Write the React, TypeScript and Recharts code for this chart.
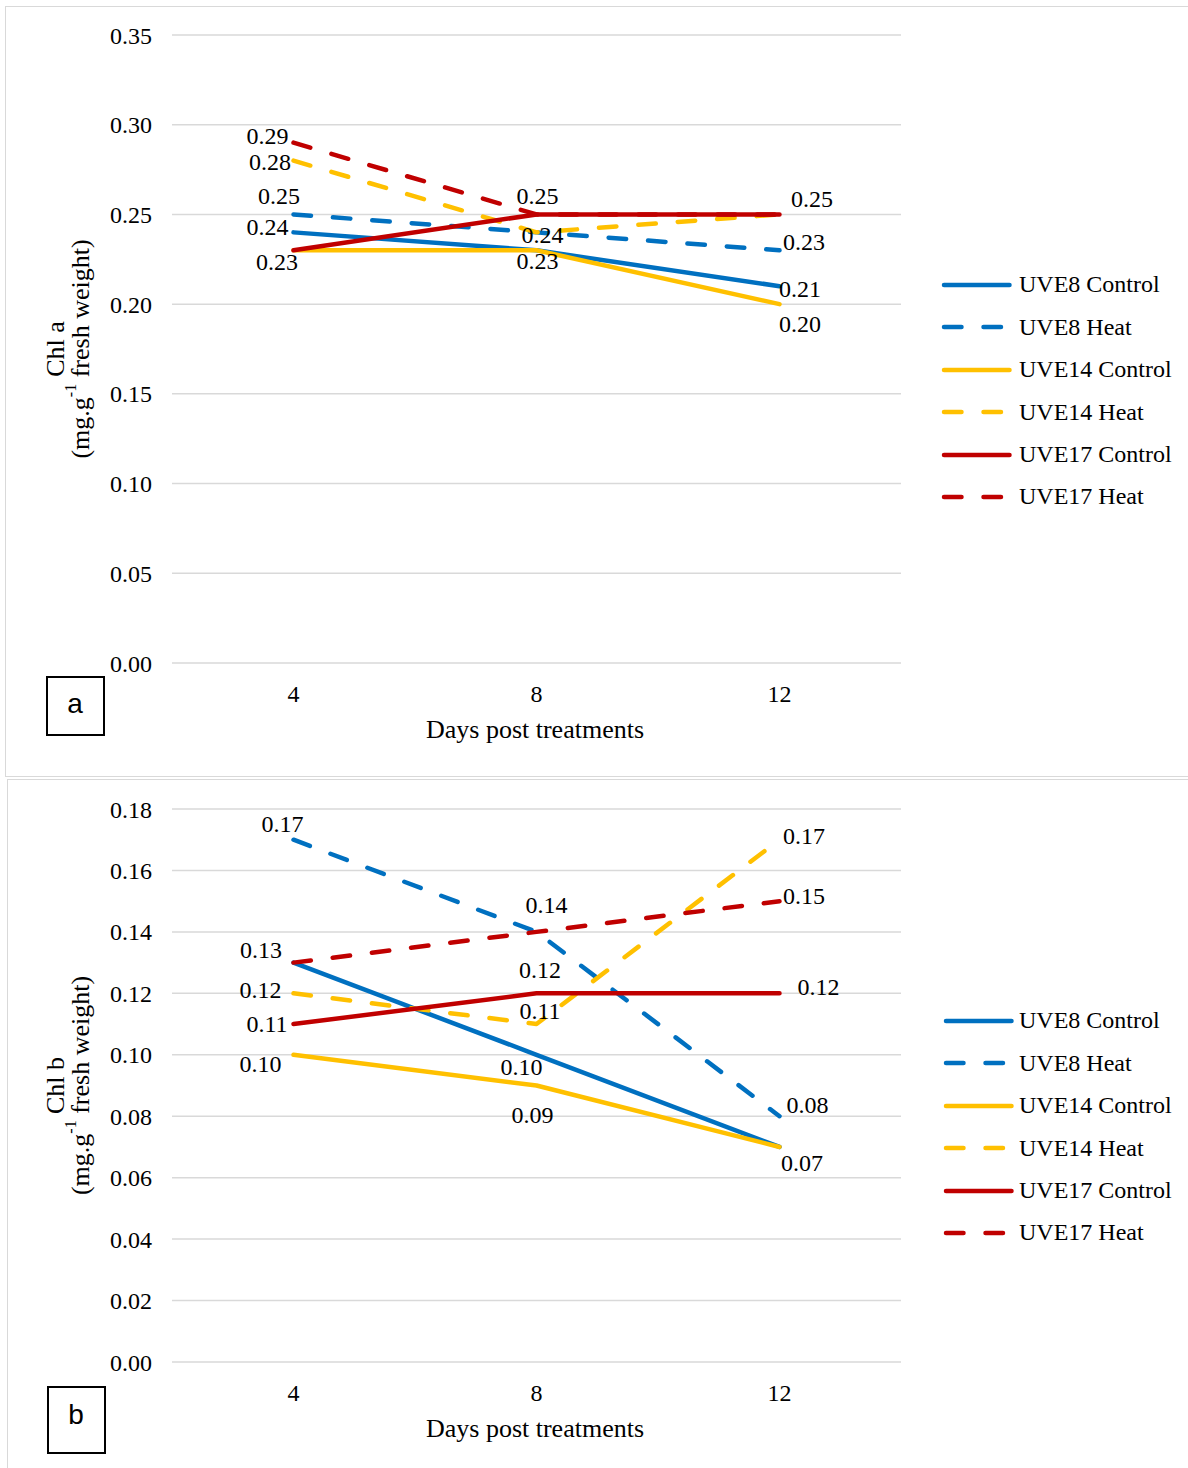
import React from 'react';
import { LineChart, Line, XAxis, YAxis, CartesianGrid, Legend, LabelList } from 'recharts';

// Sampling days after treatment
const days = ['4', '8', '12'];

// Chlorophyll a (mg.g-1 fresh weight)
const chlA_UVE8_Control = [0.24, 0.23, 0.21];
const chlA_UVE8_Heat = [0.25, 0.24, 0.23];
const chlA_UVE14_Control = [0.23, 0.23, 0.2];
const chlA_UVE14_Heat = [0.28, 0.24, 0.25];
const chlA_UVE17_Control = [0.23, 0.25, 0.25];
const chlA_UVE17_Heat = [0.29, 0.25, 0.25];

// Chlorophyll b (mg.g-1 fresh weight)
const chlB_UVE8_Control = [0.13, 0.1, 0.07];
const chlB_UVE8_Heat = [0.17, 0.14, 0.08];
const chlB_UVE14_Control = [0.1, 0.09, 0.07];
const chlB_UVE14_Heat = [0.12, 0.11, 0.17];
const chlB_UVE17_Control = [0.11, 0.12, 0.12];
const chlB_UVE17_Heat = [0.13, 0.14, 0.15];

const chlATicks = [0, 0.05, 0.1, 0.15, 0.2, 0.25, 0.3, 0.35];
const chlBTicks = [0, 0.02, 0.04, 0.06, 0.08, 0.1, 0.12, 0.14, 0.16, 0.18];

const BLUE = '#0070C0';
const YELLOW = '#FFC000';
const RED = '#C00000';
const SERIF = '"Liberation Serif", "Times New Roman", serif';
const DASH = '17.5 22';

type SeriesDef = { key: string; name: string; color: string; dashed: boolean };

const series: SeriesDef[] = [
  { key: 'uve8c', name: 'UVE8 Control', color: BLUE, dashed: false },
  { key: 'uve8h', name: 'UVE8 Heat', color: BLUE, dashed: true },
  { key: 'uve14c', name: 'UVE14 Control', color: YELLOW, dashed: false },
  { key: 'uve14h', name: 'UVE14 Heat', color: YELLOW, dashed: true },
  { key: 'uve17c', name: 'UVE17 Control', color: RED, dashed: false },
  { key: 'uve17h', name: 'UVE17 Heat', color: RED, dashed: true },
];

function buildRows(values: Record<string, number[]>) {
  return days.map((day, i) => {
    const row: Record<string, string | number> = { day };
    Object.keys(values).forEach((k) => {
      row[k] = values[k][i];
    });
    return row;
  });
}

const chlAData = buildRows({
  uve8c: chlA_UVE8_Control,
  uve8h: chlA_UVE8_Heat,
  uve14c: chlA_UVE14_Control,
  uve14h: chlA_UVE14_Heat,
  uve17c: chlA_UVE17_Control,
  uve17h: chlA_UVE17_Heat,
});

const chlBData = buildRows({
  uve8c: chlB_UVE8_Control,
  uve8h: chlB_UVE8_Heat,
  uve14c: chlB_UVE14_Control,
  uve14h: chlB_UVE14_Heat,
  uve17c: chlB_UVE17_Control,
  uve17h: chlB_UVE17_Heat,
});

// Value label offsets (dx, dy) from each point; null hides the label
type Offsets = Record<string, ([number, number] | null)[]>;

const chlALabelOffsets: Offsets = {
  uve8c: [[-26, -5], null, [20.5, 3]],
  uve8h: [[-14.5, -18], null, [24.5, -8]],
  uve14c: [[-16.5, 12], [1, 11], [20.5, 19.5]],
  uve14h: [[-23.5, 1], [6, 3], null],
  uve17c: [null, null, [32.5, -15]],
  uve17h: [[-26, -7], [1, -18], null],
};

const chlBLabelOffsets: Offsets = {
  uve8c: [null, [-15, 12], null],
  uve8h: [[-11, -16], [10, -26.5], [28, -11]],
  uve14c: [[-33, 9], [-4, 29.5], [22.5, 16]],
  uve14h: [[-33, -3], [3.5, -13], [24.5, -4]],
  uve17c: [[-26.5, 0], [3.5, -23], [39, -6]],
  uve17h: [[-32.5, -13], null, [24.5, -5]],
};

function ValueLabel(props: any, offsets: ([number, number] | null)[]) {
  const idx = props.index;
  const off = offsets[idx];
  if (!off) return null;
  const vb = props.viewBox || {};
  const x = vb.x ?? props.x;
  const y = vb.y ?? props.y;
  if (x == null || y == null) return null;
  return (
    <text
      x={x + off[0]}
      y={y + off[1]}
      textAnchor="middle"
      dominantBaseline="central"
      fontSize={24}
      fontFamily={SERIF}
      fill="#000"
    >
      {Number(props.value).toFixed(2)}
    </text>
  );
}

function YTitle({ viewBox, chl }: any) {
  const cy = viewBox.y + viewBox.height / 2;
  return (
    <g>
      <text
        transform={`translate(55.5, ${cy}) rotate(-90)`}
        textAnchor="middle"
        dominantBaseline="central"
        fontSize={26}
        fontFamily={SERIF}
        fill="#000"
      >
        {chl}
      </text>
      <text
        transform={`translate(80, ${cy}) rotate(-90)`}
        textAnchor="middle"
        dominantBaseline="central"
        fontSize={26}
        fontFamily={SERIF}
        fill="#000"
      >
        (mg.g
        <tspan dy={-10} fontSize={16}>
          -1
        </tspan>
        <tspan dy={10}> fresh weight)</tspan>
      </text>
    </g>
  );
}

function XTitle({ viewBox }: any) {
  return (
    <text
      x={536.5 - 1.5}
      y={viewBox.y + 66.5}
      textAnchor="middle"
      dominantBaseline="central"
      fontSize={26}
      fontFamily={SERIF}
      fill="#000"
    >
      Days post treatments
    </text>
  );
}

function LegendRows({ lineOffset }: { lineOffset: number }) {
  return (
    <div style={{ fontFamily: SERIF, fontSize: 24, color: '#000' }}>
      {series.map((s) => (
        <div key={s.key} style={{ height: 42.4, display: 'flex', alignItems: 'center' }}>
          <svg width={79} height={12} style={{ display: 'block', flex: 'none' }}>
            <line
              x1={4 + lineOffset}
              x2={69.5 + lineOffset}
              y1={6}
              y2={6}
              stroke={s.color}
              strokeWidth={4.5}
              strokeLinecap="round"
              strokeDasharray={s.dashed ? DASH : undefined}
            />
          </svg>
          <span style={{ whiteSpace: 'nowrap' }}>{s.name}</span>
        </div>
      ))}
    </div>
  );
}

type PanelProps = {
  data: any[];
  ticks: number[];
  yMax: number;
  top: number;
  height: number;
  plotTop: number;
  chl: string;
  offsets: Offsets;
  legendTop: number;
  legendLineOffset: number;
  letter: string;
  box: { left: number; top: number; width: number; height: number; letterTop: number };
};

function Panel(p: PanelProps) {
  const tickStyle = { fill: '#000', fontSize: 24, fontFamily: SERIF };
  return (
    <div style={{ position: 'absolute', left: 0, top: p.top, width: 1188, height: p.height }}>
      <LineChart
        width={1188}
        height={p.height}
        data={p.data}
        margin={{ top: p.plotTop, right: 287, bottom: 33, left: 112 }}
      >
        <CartesianGrid vertical={false} stroke="#d9d9d9" strokeWidth={1.5} />
        <XAxis
          dataKey="day"
          axisLine={false}
          tickLine={false}
          height={80}
          tickMargin={16}
          padding={{ left: 121.5, right: 121.5 }}
          tick={tickStyle}
          label={{ content: (lp: any) => <XTitle {...lp} /> }}
        />
        <YAxis
          width={60}
          domain={[0, p.yMax]}
          ticks={p.ticks}
          interval={0}
          tickFormatter={(v: number) => v.toFixed(2)}
          axisLine={false}
          tickLine={false}
          tickMargin={14}
          tick={tickStyle}
          label={{ content: (lp: any) => <YTitle {...lp} chl={p.chl} /> }}
        />
        <Legend
          layout="vertical"
          align="center"
          verticalAlign="middle"
          wrapperStyle={{ left: 940, top: p.legendTop, width: 248 }}
          content={() => <LegendRows lineOffset={p.legendLineOffset} />}
        />
        {series.map((s) => (
          <Line
            key={s.key}
            type="linear"
            dataKey={s.key}
            name={s.name}
            stroke={s.color}
            strokeWidth={4.5}
            strokeLinecap="round"
            strokeLinejoin="round"
            strokeDasharray={s.dashed ? DASH : undefined}
            dot={false}
            activeDot={false}
            isAnimationActive={false}
          >
            <LabelList dataKey={s.key} content={(lp: any) => ValueLabel(lp, p.offsets[s.key])} />
          </Line>
        ))}
      </LineChart>
      <div
        style={{
          position: 'absolute',
          left: p.box.left,
          top: p.box.top,
          width: p.box.width,
          height: p.box.height,
          boxSizing: 'border-box',
          border: '2.5px solid #000',
          background: '#fff',
        }}
      >
        <div
          style={{
            position: 'absolute',
            left: 0,
            width: '100%',
            top: p.box.letterTop,
            textAlign: 'center',
            lineHeight: 1,
            fontSize: 28,
            fontFamily: '"Liberation Sans", Arial, sans-serif',
            color: '#000',
          }}
        >
          {p.letter}
        </div>
      </div>
    </div>
  );
}

export default function App() {
  return (
    <div
      style={{
        position: 'absolute',
        left: 0,
        top: 0,
        width: 1188,
        height: 1468,
        overflow: 'hidden',
        background: '#fff',
      }}
    >
      <div
        style={{
          position: 'absolute',
          left: 5,
          top: 5.5,
          width: 1300,
          height: 771,
          boxSizing: 'border-box',
          border: '1.5px solid #d9d9d9',
        }}
      />
      <div
        style={{
          position: 'absolute',
          left: 6.5,
          top: 779,
          width: 1300,
          height: 800,
          boxSizing: 'border-box',
          border: '1.5px solid #d9d9d9',
        }}
      />
      <Panel
        data={chlAData}
        ticks={chlATicks}
        yMax={0.35}
        top={0}
        height={776}
        plotTop={35}
        chl="Chl a"
        offsets={chlALabelOffsets}
        legendTop={263.8}
        legendLineOffset={0}
        letter="a"
        box={{ left: 45.5, top: 675.5, width: 59, height: 60.5, letterTop: 12.5 }}
      />
      <Panel
        data={chlBData}
        ticks={chlBTicks}
        yMax={0.18}
        top={778}
        height={697}
        plotTop={31}
        chl="Chl b"
        offsets={chlBLabelOffsets}
        legendTop={221.8}
        legendLineOffset={2}
        letter="b"
        box={{ left: 46.5, top: 607.5, width: 59, height: 68.5, letterTop: 13.5 }}
      />
    </div>
  );
}
